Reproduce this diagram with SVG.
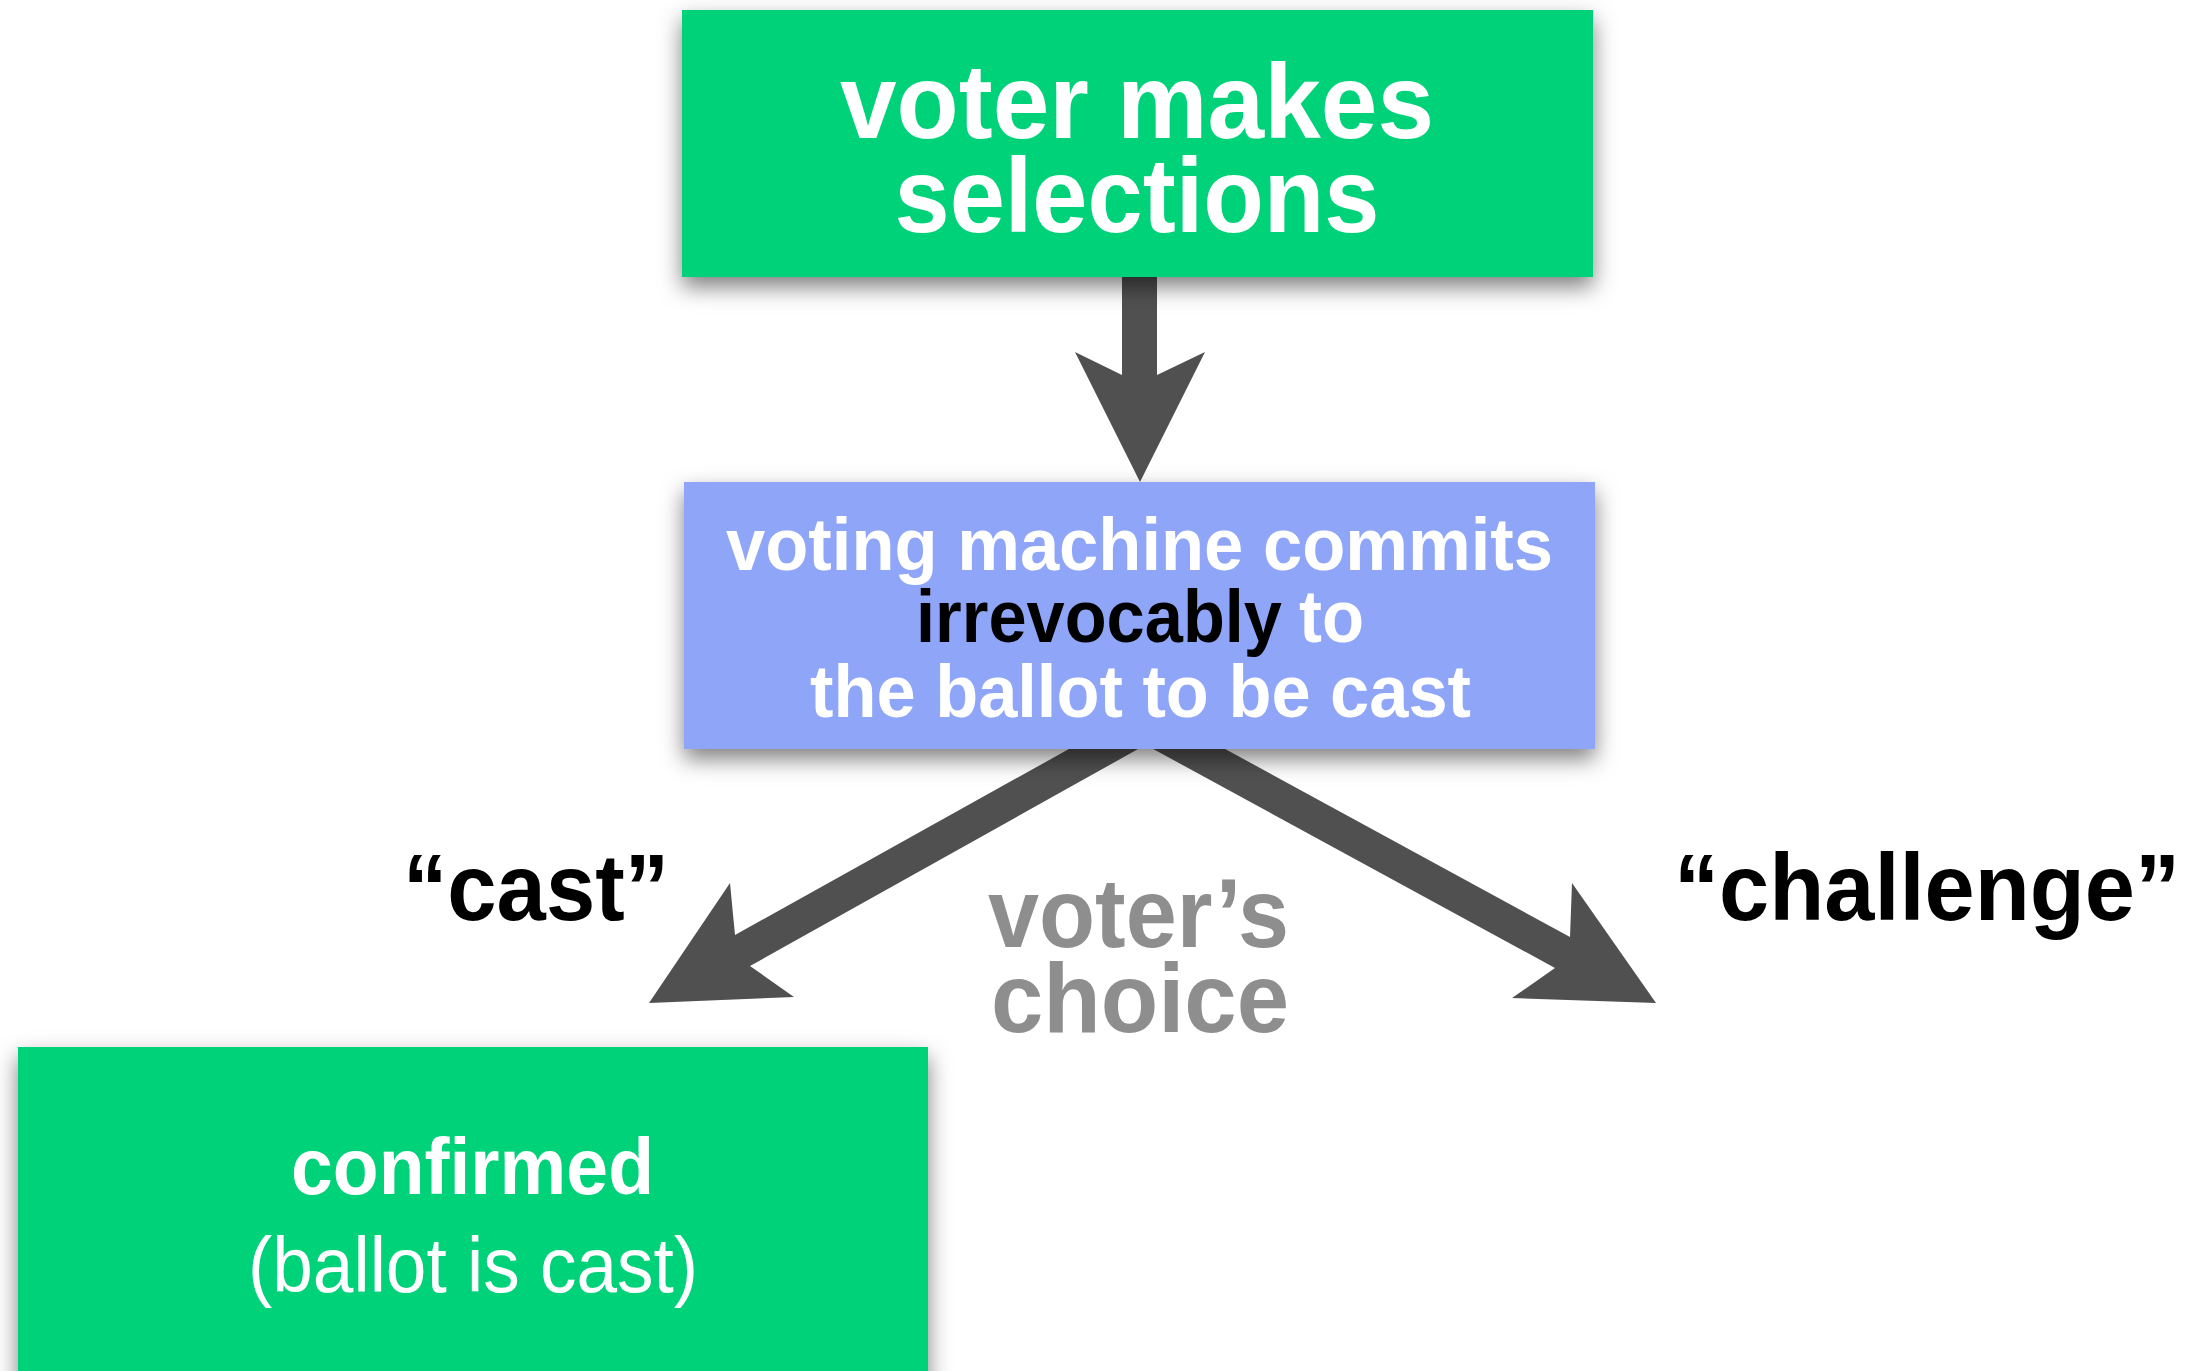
<svg xmlns="http://www.w3.org/2000/svg" width="2195" height="1371" viewBox="0 0 2195 1371">
  <style>
    .box-green { fill: #01D27A; }
    .box-blue { fill: #8FA5F7; }
    .arrow { fill: #505050; }
    .t { font-family: "Liberation Sans", Arial, Helvetica, sans-serif; font-weight: bold; }
    .white { fill: #FFFFFF; }
    .black { fill: #000000; }
    .gray { fill: #8E8E8E; }
    .reg { font-weight: normal; }
  </style>
  <defs>
    <filter id="shadow" x="-10%" y="-20%" width="120%" height="150%">
      <feDropShadow dx="0" dy="10" stdDeviation="11" flood-color="#000000" flood-opacity="0.5"/>
    </filter>
  </defs>
  <rect width="2195" height="1371" fill="#FFFFFF"/>

  <!-- connectors (drawn first so box shadows fall over their tails) -->
  <g id="connectors">
    <polygon class="arrow" points="1122,260 1157,260 1157,375 1205,352 1140,482 1075,352 1122,375"/>
    <polygon class="arrow" points="1121,720 735,935 730,883 649,1003 794,997 750,966 1190,720"/>
    <polygon class="arrow" points="1100,720 1555,968 1512,998 1656,1003 1572,883 1570,937 1172,720"/>
  </g>

  <g id="node-selections">
    <rect class="box-green" x="682" y="10" width="911" height="267" filter="url(#shadow)"/>
    <text class="t white" x="1137" y="138" font-size="106" text-anchor="middle" textLength="594" lengthAdjust="spacingAndGlyphs">voter makes</text>
    <text class="t white" x="1137" y="232" font-size="106" text-anchor="middle" textLength="485" lengthAdjust="spacingAndGlyphs">selections</text>
  </g>

  <g id="node-commit">
    <rect class="box-blue" x="684" y="482" width="911" height="267" filter="url(#shadow)"/>
    <text class="t white" x="726" y="570" font-size="75" textLength="827" lengthAdjust="spacingAndGlyphs">voting machine commits</text>
    <text class="t black" x="916" y="642" font-size="75" textLength="366" lengthAdjust="spacingAndGlyphs">irrevocably</text>
    <text class="t white" x="1299" y="642" font-size="75" textLength="65" lengthAdjust="spacingAndGlyphs">to</text>
    <text class="t white" x="810" y="717" font-size="75" textLength="661" lengthAdjust="spacingAndGlyphs">the ballot to be cast</text>
  </g>

  <g id="label-cast">
    <text class="t black" x="403" y="920" font-size="94" textLength="266" lengthAdjust="spacingAndGlyphs">“cast”</text>
  </g>

  <g id="label-challenge">
    <text class="t black" x="1674" y="920" font-size="94" textLength="506" lengthAdjust="spacingAndGlyphs">“challenge”</text>
  </g>

  <g id="label-choice">
    <text class="t gray" x="988" y="947" font-size="98" textLength="301" lengthAdjust="spacingAndGlyphs">voter’s</text>
    <text class="t gray" x="991" y="1032" font-size="98" textLength="298" lengthAdjust="spacingAndGlyphs">choice</text>
  </g>

  <g id="node-confirmed">
    <rect class="box-green" x="18" y="1047" width="910" height="340" filter="url(#shadow)"/>
    <text class="t white" x="291" y="1194" font-size="80" textLength="363" lengthAdjust="spacingAndGlyphs">confirmed</text>
    <text class="t white reg" x="248" y="1292" font-size="78" textLength="450" lengthAdjust="spacingAndGlyphs">(ballot is cast)</text>
  </g>
</svg>
